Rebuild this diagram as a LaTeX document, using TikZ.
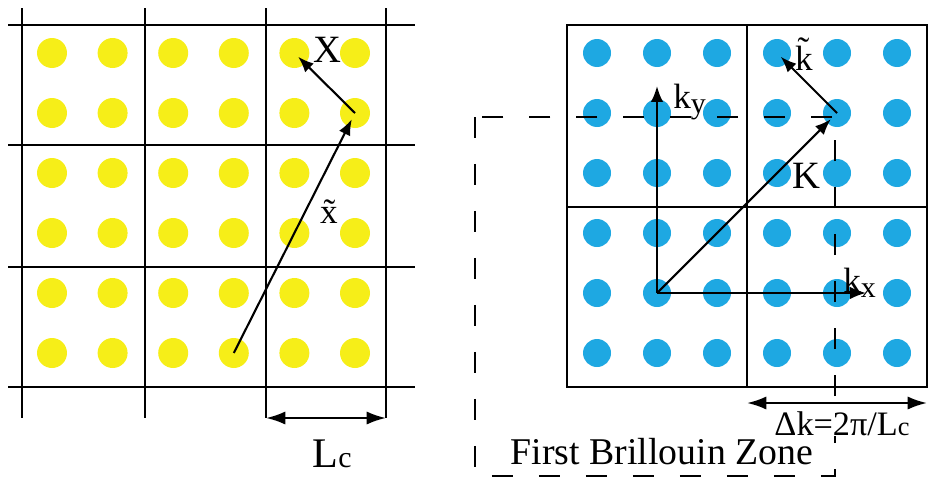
\documentclass[tikz,border=0pt]{standalone}
\usepackage{fontspec}
\setmainfont{Liberation Serif}
\usetikzlibrary{arrows.meta}
\definecolor{dotyellow}{RGB}{246,238,24}
\definecolor{dotblue}{RGB}{30,168,226}

\begin{document}
\begin{tikzpicture}[x=0.02cm,y=-0.02cm,>={Latex[length=9pt,width=7pt]},
    grid/.style={line width=1.3pt},
    dim/.style={line width=1.3pt,{Latex[length=11pt,width=7.5pt]}-{Latex[length=11pt,width=7.5pt]}},
    ydot/.style={circle,fill=dotyellow,minimum size=0.6cm,inner sep=0pt},
    bdot/.style={circle,fill=dotblue,minimum size=0.56cm,inner sep=0pt},
    vec/.style={line width=1.2pt,->},
    zone/.style={line width=1.2pt,dash pattern=on 0.42cm off 0.52cm},
    lbl/.style={inner sep=0pt,font=\fontsize{22}{24}\selectfont}]
    \useasboundingbox (0,0) rectangle (930,484);

    \foreach \i in {0,...,5}
        \foreach \j in {0,...,5} {
            \node[ydot] (y\i\j) at ({52+60.6*\i},{53+60*\j}) {};
            \node[bdot] (c\i\j) at ({597+60*\i},{53+60*\j}) {};
        }

    \foreach \y in {25,145,267,387}
        \draw[grid] (8,\y) -- (415,\y);
    \foreach \x in {22,145,266,386}
        \draw[grid] (\x,8) -- (\x,418);
    \coordinate (lcleft) at (266,418);
    \coordinate (lcright) at (386,418);
    \draw[dim] (lcleft) -- (lcright);
    \node[lbl,font=\fontsize{24}{26}\selectfont] (lc) at (332,454) {L{\fontsize{17}{18}\selectfont c}};

    \draw[vec,shorten >=4pt] (y35.center) -- (y51.center);
    \draw[vec,shorten >=3pt] (y51.center) -- (y40.center);
    \node[lbl] (xlab) at (327,50) {X};
    \node[lbl,font=\fontsize{20}{22}\selectfont] (xtlab) at (329,212) {\~x};

    \draw[zone] (475,117) rectangle (835,476);
    \draw[grid] (567,25) rectangle (927,387);
    \draw[grid] (747,25) -- (747,387);
    \draw[grid] (567,207) -- (927,207);

    \coordinate (kytip) at (657,86);
    \coordinate (kxtip) at (866,293);
    \draw[vec] (c14.center) -- (kytip);
    \draw[vec] (c14.center) -- (kxtip);
    \draw[vec,shorten >=5pt] (c14.center) -- (c41.center);
    \draw[vec,shorten >=3pt] (c41.center) -- (c30.center);
    \node[lbl,font=\fontsize{20}{22}\selectfont] (kylab) at (690,102) {k\textsubscript{\fontsize{17}{18}\selectfont y}};
    \node[lbl,font=\fontsize{20}{22}\selectfont] (kxlab) at (860,283) {k\textsubscript{\fontsize{17}{18}\selectfont x}};
    \node[lbl] (klab) at (806,176) {K};
    \node[lbl,font=\fontsize{20}{22}\selectfont] (ktlab) at (804,54) {\~k};

    \coordinate (dkleft) at (747,403);
    \coordinate (dkright) at (927,403);
    \node[lbl,fill=white,font=\fontsize{19.5}{21}\selectfont] (dk) at (842,424) {Δk=2π/L{\fontsize{15}{16}\selectfont c}};
    \draw[dim] (dkleft) -- (dkright);
    \node[lbl,font=\fontsize{21.5}{23}\selectfont] (bz) at (662,452) {First Brillouin Zone};
\end{tikzpicture}
\end{document}
